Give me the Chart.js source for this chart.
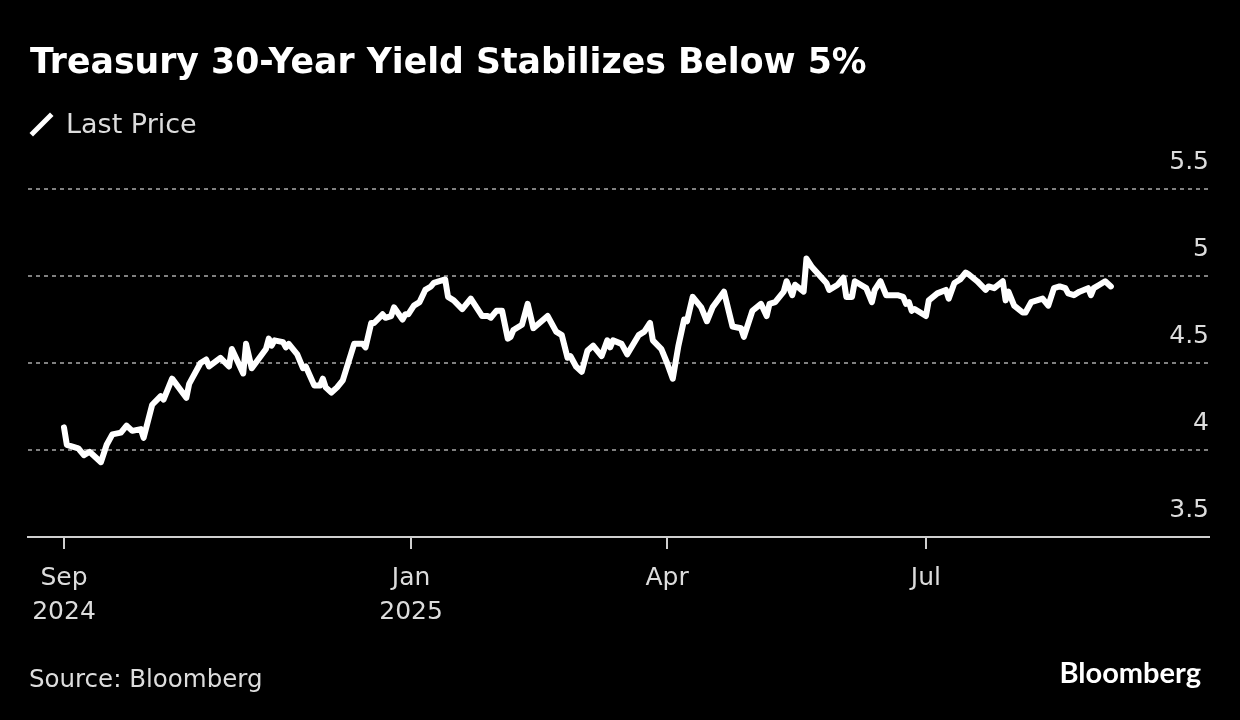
<!DOCTYPE html>
<html>
<head>
<meta charset="utf-8">
<title>Treasury 30-Year Yield</title>
<script src="https://cdn.jsdelivr.net/npm/chart.js@4.4.1/dist/chart.umd.min.js"></script>
<style>
  body { margin: 0; background: #000; }
  #wrap { position: relative; width: 1240px; height: 720px; overflow: hidden; }
  #wrap canvas { position: absolute; left: 0; top: 0; }
  .txt { position: absolute; white-space: nowrap; line-height: 1; font-family: "DejaVu Sans", sans-serif; }
  #title { left: 30px; top: 44px; font-size: 34.7px; font-weight: bold; color: #fff; }
  #legendIcon { position: absolute; left: 27px; top: 121.5px; width: 29px; height: 5px; background: #fff; transform: rotate(-45deg); }
  #legend { left: 66px; top: 110px; font-size: 27px; color: #ddd; }
  #source { left: 29px; top: 667px; font-size: 24.5px; color: #ddd; }
  #logo { right: 39px; top: 657px; font-family: Lato, sans-serif; font-weight: bold; font-size: 29px; color: #fff; }
</style>
</head>
<body>
<div id="wrap">
  <canvas id="chart"></canvas>
  <div class="txt" id="title">Treasury 30-Year Yield Stabilizes Below 5%</div>
  <div id="legendIcon"></div>
  <div class="txt" id="legend">Last Price</div>
  <div class="txt" id="source">Source: Bloomberg</div>
  <div class="txt" id="logo">Bloomberg</div>
</div>
<script>
// days since 2024-09-01
const dayOffsets = [
  0, 1, 5, 7, 9, 13, 15, 17, 20, 22, 24, 27, 28, 31, 34, 35, 38, 43, 44, 45,
  48, 50, 51, 55, 58, 59, 63, 64, 66, 71, 72, 73, 74, 77, 78, 79, 82, 84, 85, 88,
  90, 91, 92, 94, 96, 98, 102, 105, 106, 108, 109, 112, 113, 115, 116, 119, 120, 121, 123, 125,
  127, 129, 130, 134, 135, 137, 140, 143, 147, 149, 150, 152, 154, 156, 157, 158, 161, 163, 165, 170,
  173, 175, 177, 178, 180, 182, 184, 186, 189, 191, 192, 193, 196, 198, 202, 204, 206, 207, 210, 212,
  214, 216, 218, 219, 221, 224, 226, 228, 232, 235, 238, 239, 242, 245, 247, 248, 250, 253, 254, 256,
  257, 260, 261, 263, 268, 269, 272, 274, 275, 277, 278, 282, 284, 285, 287, 289, 293, 295, 296, 297,
  298, 299, 303, 304, 307, 310, 311, 313, 315, 317, 318, 321, 324, 325, 327, 330, 331, 332, 334, 337,
  338, 340, 342, 344, 346, 348, 350, 352, 353, 355, 357, 360, 361, 362, 364, 366, 368
];
const yields = [
  4.13, 4.03, 4.01, 3.97, 3.99, 3.93, 4.03, 4.09, 4.10, 4.14, 4.11, 4.12, 4.07, 4.26, 4.31, 4.29, 4.41, 4.30, 4.38, 4.41,
  4.50, 4.52, 4.48, 4.53, 4.48, 4.58, 4.44, 4.61, 4.47, 4.58, 4.64, 4.60, 4.63, 4.62, 4.59, 4.61, 4.55, 4.47, 4.48, 4.37,
  4.37, 4.41, 4.36, 4.33, 4.36, 4.40, 4.61, 4.61, 4.59, 4.73, 4.73, 4.78, 4.76, 4.77, 4.82, 4.75, 4.78, 4.78, 4.83, 4.85,
  4.92, 4.94, 4.96, 4.98, 4.88, 4.86, 4.81, 4.87, 4.77, 4.77, 4.76, 4.80, 4.80, 4.64, 4.65, 4.69, 4.72, 4.84, 4.70, 4.77,
  4.68, 4.66, 4.53, 4.54, 4.48, 4.45, 4.57, 4.60, 4.54, 4.63, 4.59, 4.63, 4.61, 4.55, 4.66, 4.68, 4.73, 4.63, 4.58, 4.50,
  4.41, 4.60, 4.75, 4.74, 4.88, 4.82, 4.74, 4.82, 4.91, 4.71, 4.70, 4.65, 4.80, 4.84, 4.77, 4.84, 4.85, 4.91, 4.97, 4.89,
  4.95, 4.91, 5.10, 5.05, 4.96, 4.92, 4.95, 4.99, 4.88, 4.88, 4.97, 4.93, 4.85, 4.92, 4.97, 4.89, 4.89, 4.88, 4.84, 4.85,
  4.80, 4.81, 4.77, 4.86, 4.90, 4.92, 4.87, 4.96, 4.98, 5.02, 5.01, 4.97, 4.92, 4.94, 4.93, 4.97, 4.86, 4.91, 4.83, 4.79,
  4.79, 4.85, 4.86, 4.87, 4.83, 4.93, 4.94, 4.93, 4.90, 4.89, 4.91, 4.93, 4.89, 4.93, 4.95, 4.97, 4.94
];

const tickDays = [0, 122, 212, 303];
const tickLabels = [["Sep", "2024"], ["Jan", "2025"], ["Apr"], ["Jul"]];
const yTicks = [3.5, 4, 4.5, 5, 5.5];

const labelFont = { family: "DejaVu Sans", size: 25, lineHeight: 1.36 };

new Chart(document.getElementById("chart"), {
  type: "line",
  data: {
    datasets: [{
      label: "Last Price",
      data: dayOffsets.map((d, i) => ({ x: d, y: yields[i] })),
      borderColor: "#fff",
      borderWidth: 6,
      pointRadius: 0,
      tension: 0,
      borderJoinStyle: "round",
      borderCapStyle: "round"
    }]
  },
  options: {
    responsive: true,
    maintainAspectRatio: false,
    animation: false,
    layout: { padding: { left: 28, right: 31, top: 189, bottom: 0 } },
    plugins: { legend: { display: false }, tooltip: { enabled: false } },
    scales: {
      x: {
        type: "linear",
        min: -12.65,
        max: 402.5,
        afterBuildTicks: a => { a.ticks = tickDays.map(v => ({ value: v })); },
        afterFit: a => { a.height = 183; },
        grid: { drawOnChartArea: false, drawTicks: true, tickLength: 12, color: "#cfcfcf", lineWidth: 2 },
        border: { color: "#cfcfcf", width: 2 },
        ticks: {
          color: "#dcdcdc",
          font: labelFont,
          padding: 12,
          maxRotation: 0,
          autoSkip: false,
          callback: (v, i) => tickLabels[i]
        }
      },
      y: {
        position: "right",
        min: 3.5,
        max: 5.5,
        afterBuildTicks: a => { a.ticks = yTicks.map(v => ({ value: v })); },
        afterFit: a => { a.width = 0; },
        grid: {
          color: c => (c.tick && c.tick.value === 3.5) ? "rgba(0,0,0,0)" : "#808080",
          lineWidth: 2,
          drawTicks: false
        },
        border: { display: false, dash: [4, 4] },
        ticks: {
          mirror: true,
          padding: 0,
          labelOffset: -27,
          color: "#dcdcdc",
          font: labelFont,
          callback: v => String(v)
        }
      }
    }
  }
});
</script>
</body>
</html>
